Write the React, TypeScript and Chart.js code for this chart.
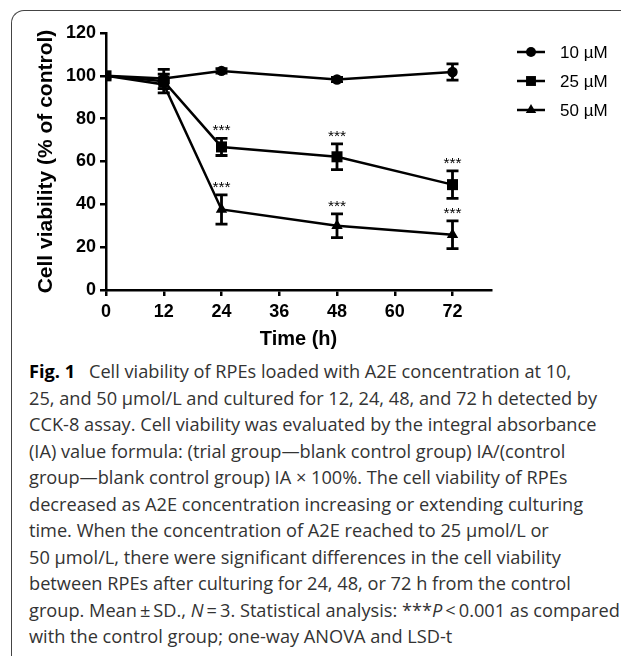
import React, { useEffect, useRef } from "react";
import { Chart, registerables } from "chart.js";

Chart.register(...registerables);

// ---- data ----
const timePoints = [0, 12, 24, 48, 72];
const xTickValues = [0, 12, 24, 36, 48, 60, 72];
const yTickValues = [0, 20, 40, 60, 80, 100, 120];
const seriesLabels = ["10 µM", "25 µM", "50 µM"];
const values10 = [100, 98.8, 102.3, 98.3, 101.8];
const errors10 = [0, 2, 1, 1, 3.8];
const values25 = [100, 97.5, 66.8, 62.2, 49.2];
const errors25 = [0, 5.5, 4, 6, 6.4];
const values50 = [100, 96, 37.6, 30, 25.8];
const errors50 = [0, 2, 6.8, 5.5, 6.5];
const sig10 = [false, false, false, false, false];
const sig25 = [false, false, true, true, true];
const sig50 = [false, false, true, true, true];
const sigLabel = "***";
const xTitle = "Time (h)";
const yTitle = "Cell viability (% of control)";

const FAMILY = "'Liberation Sans', Arial, Helvetica, sans-serif";
const pointStyles = ["circle", "rect", "triangle"] as const;
const pointRadii = [5.2, 7.8, 6.6];

const seriesValues = [values10, values25, values50];
const seriesErrors = [errors10, errors25, errors50];
const seriesSig = [sig10, sig25, sig50];

const errorBarPlugin = {
  id: "errorBars",
  afterDatasetsDraw(chart: any) {
    const ctx = chart.ctx;
    const xs = chart.scales.x;
    const ys = chart.scales.y;
    ctx.save();
    ctx.strokeStyle = "#000";
    ctx.lineWidth = 2.8;
    ctx.lineCap = "butt";
    seriesValues.forEach((vals, si) => {
      vals.forEach((v, i) => {
        const e = seriesErrors[si][i];
        const px = xs.getPixelForValue(timePoints[i]);
        const top = ys.getPixelForValue(v + e);
        const bot = ys.getPixelForValue(v - e);
        if (e > 0) {
          ctx.beginPath();
          ctx.moveTo(px, top);
          ctx.lineTo(px, bot);
          ctx.moveTo(px - 6, top);
          ctx.lineTo(px + 6, top);
          ctx.moveTo(px - 6, bot);
          ctx.lineTo(px + 6, bot);
          ctx.stroke();
        }
        if (seriesSig[si][i]) {
          ctx.fillStyle = "#000";
          ctx.font = `15.5px ${FAMILY}`;
          ctx.textAlign = "center";
          ctx.textBaseline = "alphabetic";
          ctx.fillText(sigLabel, px, top - 3);
        }
      });
    });
    ctx.restore();
  },
};

function drawMarker(ctx: CanvasRenderingContext2D, style: string, x: number, y: number, r: number) {
  ctx.beginPath();
  if (style === "circle") {
    ctx.arc(x, y, r, 0, Math.PI * 2);
  } else if (style === "rect") {
    const s = r * Math.SQRT1_2;
    ctx.rect(x - s, y - s, 2 * s, 2 * s);
  } else {
    const h = r;
    ctx.moveTo(x, y - h);
    ctx.lineTo(x + h * 0.866, y + h * 0.5);
    ctx.lineTo(x - h * 0.866, y + h * 0.5);
    ctx.closePath();
  }
  ctx.fill();
}

const legendPlugin = {
  id: "customLegend",
  afterDraw(chart: any) {
    const ctx = chart.ctx;
    ctx.save();
    seriesLabels.forEach((label, i) => {
      const cy = 52 + i * 29;
      ctx.strokeStyle = "#000";
      ctx.fillStyle = "#000";
      ctx.lineWidth = 2.5;
      ctx.beginPath();
      ctx.moveTo(517, cy);
      ctx.lineTo(545, cy);
      ctx.stroke();
      drawMarker(ctx, pointStyles[i], 531, cy, i === 2 ? 6 : i === 1 ? 7 : 5);
      ctx.font = `17px ${FAMILY}`;
      ctx.textAlign = "left";
      ctx.textBaseline = "middle";
      ctx.fillText(label, 560, cy + 1);
    });
    ctx.restore();
  },
};

function ChartBox() {
  const ref = useRef<HTMLCanvasElement | null>(null);
  useEffect(() => {
    if (!ref.current) return;
    const chart = new Chart(ref.current, {
      type: "line",
      data: {
        datasets: seriesLabels.map((label, si) => ({
          label,
          data: timePoints.map((t, i) => ({ x: t, y: seriesValues[si][i] })),
          borderColor: "#000",
          backgroundColor: "#000",
          borderWidth: 2.5,
          pointStyle: pointStyles[si],
          pointRadius: pointRadii[si],
          pointBorderWidth: 0,
          pointBackgroundColor: "#000",
          tension: 0,
          fill: false,
        })),
      },
      options: {
        animation: false,
        responsive: false,
        devicePixelRatio: 1,
        layout: { padding: { top: 33, right: 130, bottom: 0, left: 0 } },
        plugins: {
          legend: { display: false },
          tooltip: { enabled: false },
        },
        scales: {
          x: {
            type: "linear",
            min: 0,
            max: 80,
            afterBuildTicks: (s: any) => {
              s.ticks = xTickValues.map((v) => ({ value: v }));
            },
            afterFit: (s: any) => {
              s.height = 62;
            },
            ticks: {
              color: "#000",
              padding: 5,
              font: { family: FAMILY, size: 18, weight: "bold" },
            },
            grid: { drawOnChartArea: false, drawTicks: true, tickLength: 6, color: "#000", lineWidth: 2.5 },
            border: { color: "#000", width: 2.5 },
            title: {
              display: true,
              text: xTitle,
              color: "#000",
              font: { family: FAMILY, size: 20, weight: "bold" },
              padding: { top: 0, bottom: 1 },
            },
          },
          y: {
            min: 0,
            max: 120,
            afterBuildTicks: (s: any) => {
              s.ticks = yTickValues.map((v) => ({ value: v }));
            },
            afterFit: (s: any) => {
              s.width = 106;
            },
            ticks: {
              color: "#000",
              padding: 4,
              font: { family: FAMILY, size: 18, weight: "bold" },
            },
            grid: { drawOnChartArea: false, drawTicks: true, tickLength: 6, color: "#000", lineWidth: 2.5 },
            border: { color: "#000", width: 2.5 },
            title: {
              display: true,
              text: yTitle,
              color: "#000",
              font: { family: FAMILY, size: 21, weight: "bold" },
              padding: { top: 34, bottom: 0 },
            },
          },
        },
      } as any,
      plugins: [errorBarPlugin, legendPlugin],
    });
    return () => chart.destroy();
  }, []);
  return (
    <canvas
      ref={ref}
      width={621}
      height={352}
      style={{ position: "absolute", left: 0, top: 0, width: 621, height: 352 }}
    />
  );
}

const captionStyle: React.CSSProperties = {
  position: "absolute",
  left: 29,
  top: 358,
  fontFamily: "'Open Sans', 'Noto Sans', sans-serif",
  fontSize: 18.2,
  lineHeight: "26.5px",
  color: "#333",
  whiteSpace: "nowrap",
};

export default function App() {
  return (
    <div
      style={{
        position: "absolute",
        left: 0,
        top: 0,
        width: 621,
        height: 657,
        overflow: "hidden",
        background: "#fff",
      }}
    >
      <div
        style={{
          position: "absolute",
          left: 11,
          top: 10,
          width: 700,
          height: 645,
          borderTop: "1px solid #444",
          borderLeft: "1px solid #444",
          borderTopLeftRadius: 13,
        }}
      />
      <ChartBox />
      <div style={captionStyle}>
        <div>
          <b style={{ color: "#000" }}>Fig. 1</b>
          {"\u2002 Cell viability of RPEs loaded with A2E concentration at 10,"}
        </div>
        <div>25, and 50 µmol/L and cultured for 12, 24, 48, and 72 h detected by</div>
        <div>CCK-8 assay. Cell viability was evaluated by the integral absorbance</div>
        <div>(IA) value formula: (trial group—blank control group) IA/(control</div>
        <div>group—blank control group) IA × 100%. The cell viability of RPEs</div>
        <div>decreased as A2E concentration increasing or extending culturing</div>
        <div>time. When the concentration of A2E reached to 25 µmol/L or</div>
        <div>50 µmol/L, there were significant differences in the cell viability</div>
        <div>between RPEs after culturing for 24, 48, or 72 h from the control</div>
        <div>
          group. Mean{"\u2009"}±{"\u2009"}SD., <i>N</i>
          {"\u2009"}={"\u2009"}3. Statistical analysis: ***<i>P</i>
          {"\u2009"}&lt;{"\u2009"}0.001 as compared
        </div>
        <div>with the control group; one-way ANOVA and LSD-t</div>
      </div>
    </div>
  );
}
